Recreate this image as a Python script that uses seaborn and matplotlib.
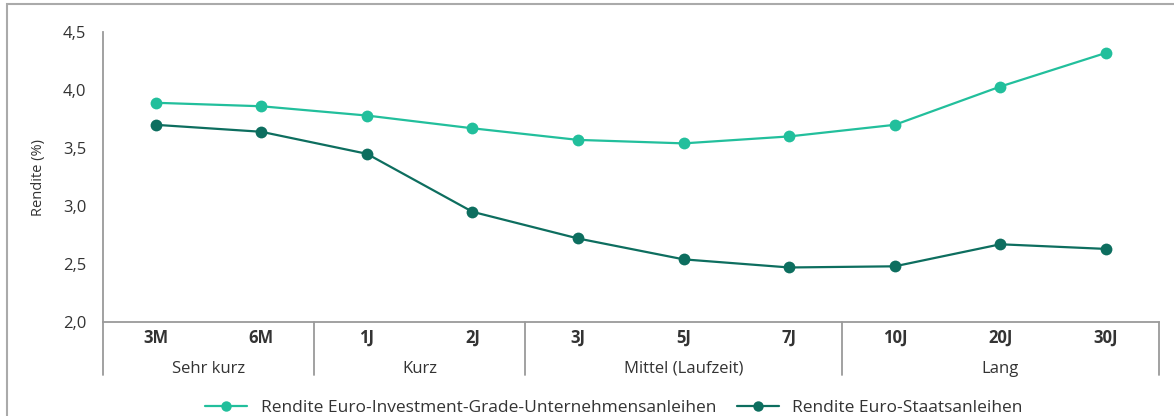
import matplotlib
matplotlib.use("Agg")
import matplotlib.pyplot as plt
import matplotlib.transforms as mtransforms
from matplotlib.lines import Line2D
from matplotlib.patches import Rectangle
import pandas as pd
import seaborn as sns

maturities = ["3M", "6M", "1J", "2J", "3J", "5J", "7J", "10J", "20J", "30J"]
corporate = [3.89, 3.86, 3.78, 3.67, 3.57, 3.54, 3.60, 3.70, 4.03, 4.32]
government = [3.70, 3.64, 3.45, 2.95, 2.72, 2.54, 2.47, 2.48, 2.67, 2.63]
groups = ["Sehr kurz", "Kurz", "Mittel (Laufzeit)", "Lang"]
group_sizes = [2, 2, 3, 3]
series_names = [
    "Rendite Euro-Investment-Grade-Unternehmensanleihen",
    "Rendite Euro-Staatsanleihen",
]
colors = ["#22bf9c", "#0d6e5f"]
yticks = [2.0, 2.5, 3.0, 3.5, 4.0, 4.5]

sns.set_style("white")
plt.rcParams["font.family"] = ["Open Sans", "DejaVu Sans"]

df = pd.DataFrame({
    "Laufzeit": maturities * 2,
    "Rendite": corporate + government,
    "Serie": [series_names[0]] * len(maturities) + [series_names[1]] * len(maturities),
})

fig = plt.figure(figsize=(11.74, 4.16), dpi=100)
ax = fig.add_axes([0.0877, 0.226, 0.8993, 0.697])

sns.lineplot(
    data=df, x="Laufzeit", y="Rendite", hue="Serie", palette=colors,
    marker="o", markersize=8.5, markeredgewidth=0, linewidth=1.6,
    sort=False, legend=False, ax=ax,
)

ax.set_xlim(-0.5, len(maturities) - 0.5)
ax.set_ylim(2.0, 4.5)
ax.set_yticks(yticks)
ax.set_yticklabels([f"{v:.1f}".replace(".", ",") for v in yticks], fontsize=12, color="#333333")
ax.set_xticks(range(len(maturities)))
ax.set_xticklabels(maturities, fontsize=12, fontweight="bold", color="#333333")
ax.tick_params(axis="both", length=0)
ax.tick_params(axis="x", pad=5)
ax.tick_params(axis="y", pad=12)
ax.set_xlabel("")
ax.set_ylabel("Rendite (%)", fontsize=10.5, color="#333333", labelpad=12)

for side in ["top", "right"]:
    ax.spines[side].set_visible(False)
for side in ["left", "bottom"]:
    ax.spines[side].set_color("#9a9a9a")
    ax.spines[side].set_linewidth(1.3)

# group separators and labels below the axis
trans = mtransforms.blended_transform_factory(ax.transData, ax.transAxes)
depth = -53 / 290
edges = [-0.5]
for n in group_sizes:
    edges.append(edges[-1] + n)
for e in edges:
    ax.plot([e, e], [0, depth], transform=trans, color="#9a9a9a", lw=1.3, clip_on=False)
for name, lo, hi in zip(groups, edges[:-1], edges[1:]):
    ax.text((lo + hi) / 2, -47 / 290, name, transform=trans, ha="center", va="center",
            fontsize=12, color="#333333")

handles = [
    Line2D([0], [0], color=c, marker="o", markersize=7.5, markeredgewidth=0, lw=1.6)
    for c in colors
]
fig.legend(handles, series_names, loc="center", bbox_to_anchor=(0.523, 1 - 408 / 416),
           ncol=2, frameon=False, fontsize=12.5, handlelength=2.4, handletextpad=0.8,
           columnspacing=1.2, labelcolor="#333333")

fig.patches.append(Rectangle((7 / 1174, -0.05), 1.0, 1.04, transform=fig.transFigure,
                             fill=False, edgecolor="#aaaaaa", lw=1.5))

fig.savefig("out.png", dpi=100)
